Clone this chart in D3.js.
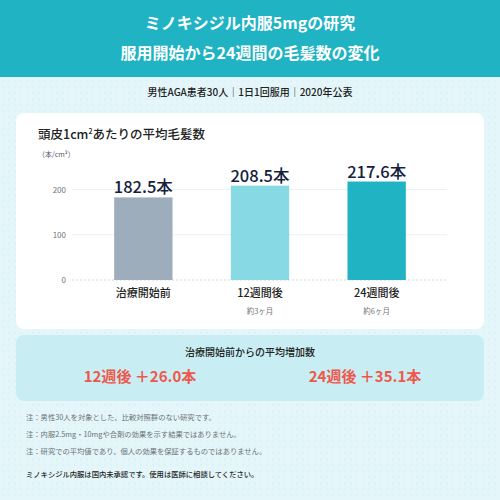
<!DOCTYPE html>
<html><head><meta charset="utf-8">
<script src="https://cdn.jsdelivr.net/npm/d3@7"></script>
<style>body{margin:0}svg{display:block}text{font-family:"Noto Sans CJK JP","Noto Sans",sans-serif}</style>
</head><body>
<script>
const categories = ["治療開始前", "12週間後", "24週間後"];
const subLabels = ["", "約3ヶ月", "約6ヶ月"];
const values = [182.5, 208.5, 217.6];
const barColors = ["#9eadbb", "#87d9e3", "#1fb3c4"];
const yTicks = [0, 100, 200];
const gains = ["12週後 ＋26.0本", "24週後 ＋35.1本"];
const notes = ["注：男性30人を対象とした、比較対照群のない研究です。",
  "注：内服2.5mg・10mgや合剤の効果を示す結果ではありません。",
  "注：研究での平均値であり、個人の効果を保証するものではありません。"];

const svg = d3.select("body").append("svg").attr("width",500).attr("height",500);
const defs = svg.append("defs");
const pat = defs.append("pattern").attr("id","dots").attr("width",6).attr("height",6).attr("patternUnits","userSpaceOnUse");
pat.append("rect").attr("width",6).attr("height",6).attr("fill","#e4f6f9");
pat.append("circle").attr("cx",3).attr("cy",3).attr("r",0.6).attr("fill","#cdeaf0");
svg.append("rect").attr("width",500).attr("height",500).attr("fill","url(#dots)");
svg.append("rect").attr("width",500).attr("height",77).attr("fill","#1fb3c3");
svg.append("text").attr("x",250).attr("y",29).attr("text-anchor","middle").attr("fill","#fff").attr("font-size",16).attr("font-weight",700).text("ミノキシジル内服5mgの研究");
svg.append("text").attr("x",250).attr("y",59).attr("text-anchor","middle").attr("fill","#fff").attr("font-size",16).attr("font-weight",700).text("服用開始から24週間の毛髪数の変化");
svg.append("text").attr("x",250).attr("y",96).attr("text-anchor","middle").attr("fill","#222").attr("font-size",10).attr("font-weight",500).text("男性AGA患者30人｜1日1回服用｜2020年公表");

svg.append("rect").attr("x",16).attr("y",113).attr("width",468).attr("height",216).attr("rx",8).attr("fill","#fff");
const t = svg.append("text").attr("x",38).attr("y",139).attr("fill","#222").attr("font-size",12.5).attr("font-weight",500);
t.append("tspan").text("頭皮1cm");
t.append("tspan").attr("font-size",7).attr("dy",-5).text("2");
t.append("tspan").attr("dy",5).text("あたりの平均毛髪数");
svg.append("text").attr("x",38).attr("y",157).attr("fill","#556").attr("font-size",7).text("（本/cm²）");

const x = d3.scaleBand().domain(categories).range([85,435]).paddingInner(0.5).paddingOuter(0.25);
const y = d3.scaleLinear().domain([0,200]).range([280,189.5]);
const g = svg.append("g");
g.selectAll(".grid").data(yTicks).join("line").attr("x1",72).attr("x2",447).attr("y1",d=>y(d)).attr("y2",d=>y(d))
  .attr("stroke","#eef1f3").attr("stroke-dasharray",d=>d===0?"2,2":null).attr("stroke",d=>d===0?"#cfd6dc":"#eef1f3");
g.selectAll(".yl").data(yTicks).join("text").attr("x",66).attr("y",d=>y(d)+3).attr("text-anchor","end").attr("fill","#6b7580").attr("font-size",8).text(d=>d);
g.selectAll(".bar").data(values).join("rect").attr("x",(d,i)=>x(categories[i])).attr("width",x.bandwidth())
  .attr("y",d=>y(d)).attr("height",d=>y(0)-y(d)).attr("fill",(d,i)=>barColors[i]);
g.selectAll(".vl").data(values).join("text").attr("x",(d,i)=>x(categories[i])+x.bandwidth()/2).attr("y",d=>y(d)-4)
  .attr("text-anchor","middle").attr("fill","#14213d").attr("font-size",16.5).attr("font-weight",500).text(d=>d.toFixed(1)+"本");
g.selectAll(".cl").data(categories).join("text").attr("x",d=>x(d)+x.bandwidth()/2).attr("y",297)
  .attr("text-anchor","middle").attr("fill","#222").attr("font-size",11).attr("font-weight",500).text(d=>d);
g.selectAll(".sl").data(subLabels).join("text").attr("x",(d,i)=>x(categories[i])+x.bandwidth()/2).attr("y",314)
  .attr("text-anchor","middle").attr("fill","#777").attr("font-size",7.5).text(d=>d);

svg.append("rect").attr("x",16).attr("y",335).attr("width",468).attr("height",66).attr("rx",8).attr("fill","#c8eef3");
svg.append("text").attr("x",250).attr("y",356).attr("text-anchor","middle").attr("fill","#222").attr("font-size",10).attr("font-weight",500).text("治療開始前からの平均増加数");
svg.selectAll(".gain").data(gains).join("text").attr("x",(d,i)=>[140,365][i]).attr("y",382).attr("text-anchor","middle")
  .attr("fill","#f0574b").attr("font-size",15).attr("font-weight",700).text(d=>d);
svg.selectAll(".note").data(notes).join("text").attr("x",26).attr("y",(d,i)=>[420,437,454][i]).attr("fill","#6b7177").attr("font-size",7.3).text(d=>d);
svg.append("text").attr("x",26).attr("y",477).attr("fill","#222").attr("font-size",7.3).attr("font-weight",500).text("ミノキシジル内服は国内未承認です。使用は医師に相談してください。");
</script>
</body></html>
